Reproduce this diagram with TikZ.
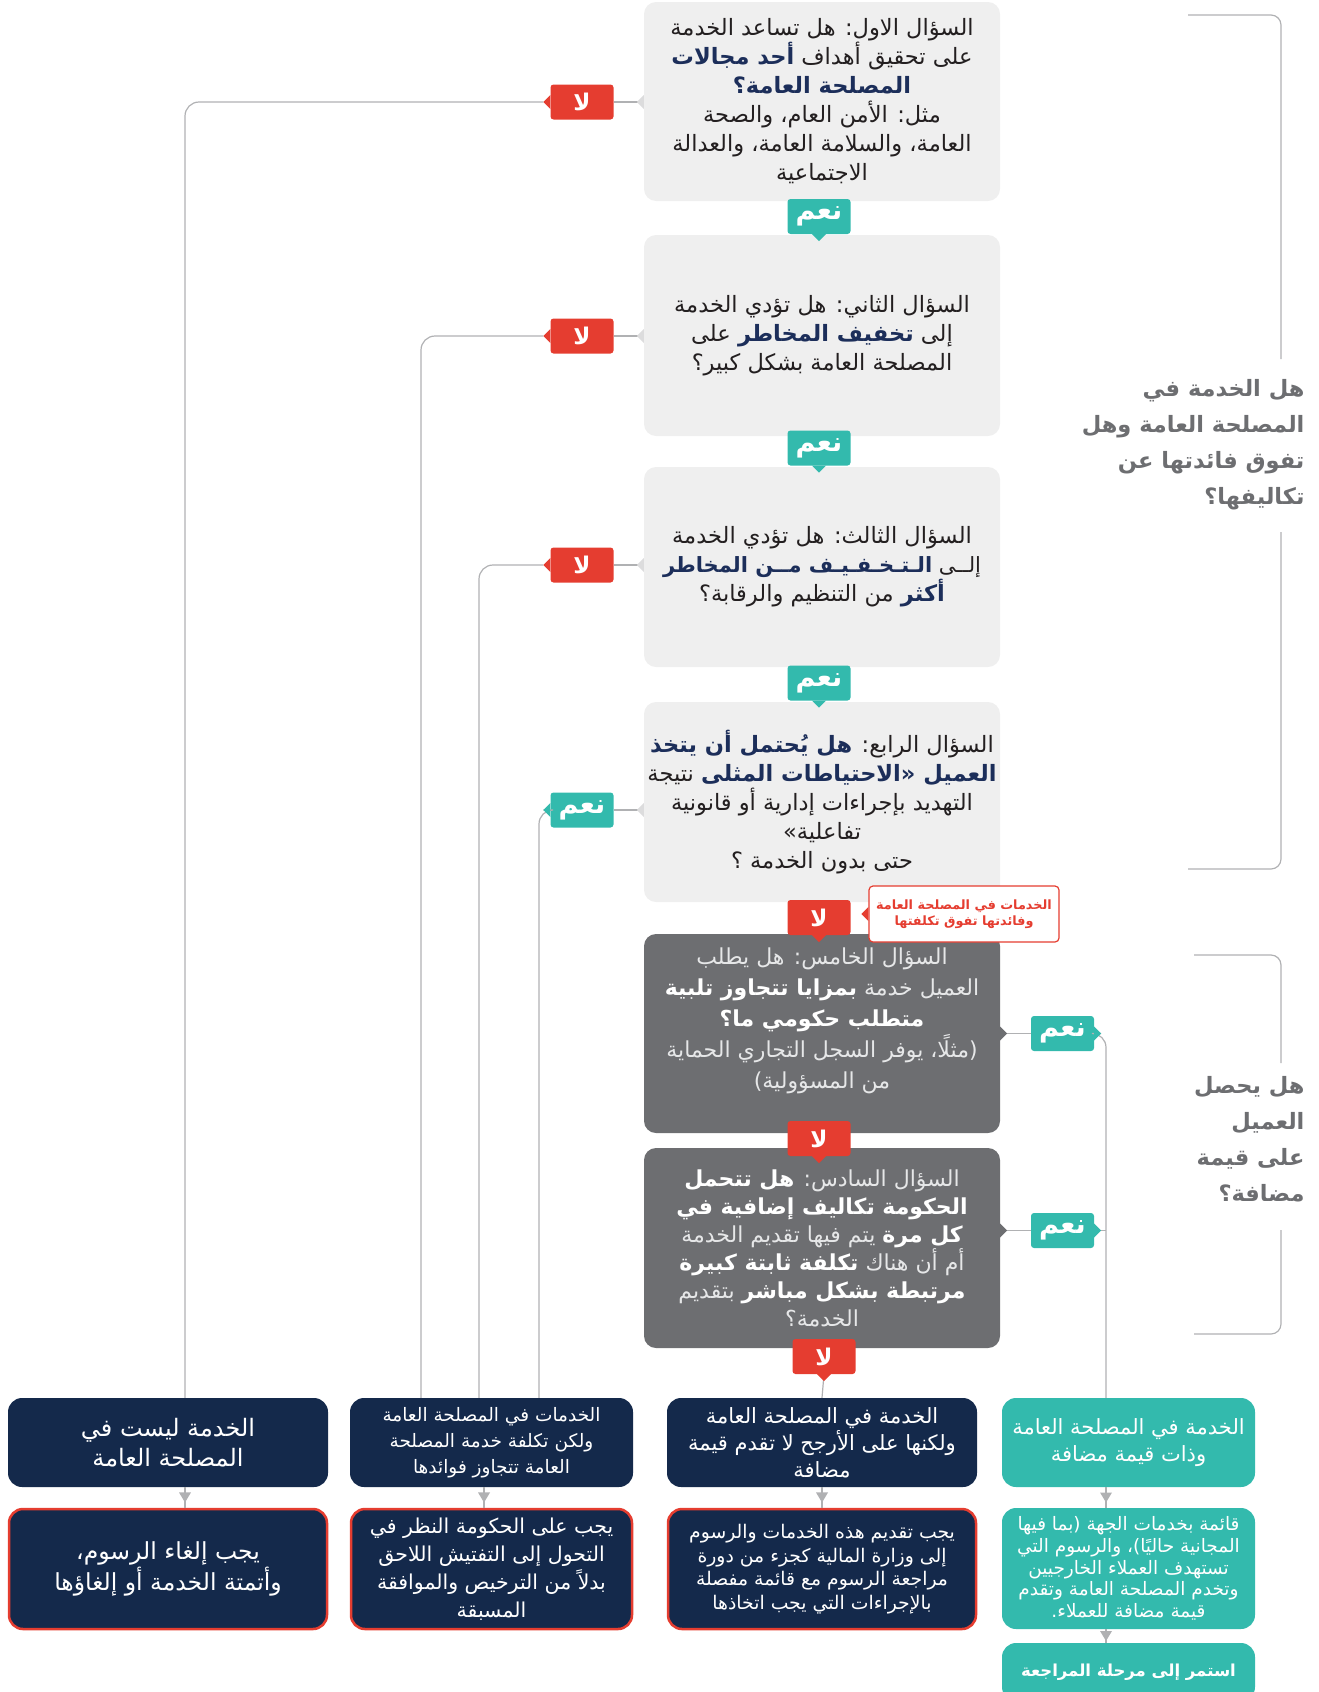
\documentclass[tikz,border=0pt]{standalone}
\usepackage{fontspec}
\newfontfamily\arfont[Script=Arabic]{DejaVu Sans}
\TeXXeTstate=1
\usetikzlibrary{calc}

\definecolor{qfill}{HTML}{EFEFEF}
\definecolor{qptr}{HTML}{DCDCDD}
\definecolor{dgray}{HTML}{6D6E71}
\definecolor{navy}{HTML}{14294B}
\definecolor{hlnavy}{HTML}{1C2E5A}
\definecolor{ared}{HTML}{E53D30}
\definecolor{ateal}{HTML}{33BAAD}
\definecolor{lineg}{HTML}{B0B1B3}
\definecolor{txt}{HTML}{231F20}
\definecolor{ltxt}{HTML}{E6E7E8}

% one right-to-left line of Arabic text
\newcommand{\ar}[1]{\beginR#1\endR}
% Emphasis inside a right-to-left line. The whole segment, colour specials
% included, is reversed at shipout, so the pop is written first and the push
% last: they come out as push ... pop around the emphasised words.
\newcommand{\hl}[1]{{\special{color pop}\bfseries#1\special{color push rgb 0.110 0.180 0.353}}}
\newcommand{\bw}[1]{{\special{color pop}\bfseries#1\special{color push rgb 1 1 1}}}
% small pointer triangles on the tags
\newcommand{\ptrS}[2]{\fill[#2] ([xshift=-7pt]#1.south) -- ([xshift=7pt]#1.south) -- ([yshift=-7pt]#1.south) -- cycle;}
\newcommand{\ptrW}[2]{\fill[#2] ([yshift=7pt]#1.west) -- ([yshift=-7pt]#1.west) -- ([xshift=-7pt]#1.west) -- cycle;}
\newcommand{\ptrE}[2]{\fill[#2] ([yshift=7pt]#1.east) -- ([yshift=-7pt]#1.east) -- ([xshift=7pt]#1.east) -- cycle;}
% down arrow head in the middle of a short vertical link
\newcommand{\dnhead}[1]{\fill[lineg] ([xshift=-6pt,yshift=5pt]#1) -- ([xshift=6pt,yshift=5pt]#1) -- ([yshift=-5pt]#1) -- cycle;}

\begin{document}
\begin{tikzpicture}[x=1pt,y=-1pt,
  qbox/.style={fill=qfill, rounded corners=12pt, minimum width=356pt, inner sep=0pt,
    text=txt, align=center, font=\arfont\fontsize{22.5}{29}\selectfont},
  dbox/.style={qbox, fill=dgray, text=ltxt, font=\arfont\fontsize{22}{29}\selectfont},
  dtext/.style={inner sep=0pt, align=center, text=ltxt, font=\arfont\fontsize{22}{31}\selectfont},
  yestag/.style={minimum width=63pt, minimum height=35pt, rounded corners=3pt, inner sep=0pt,
    text=white, fill=ateal, font=\arfont\bfseries\fontsize{27}{27}\selectfont},
  notag/.style={yestag, fill=ared, font=\arfont\bfseries\fontsize{23}{23}\selectfont},
  conn/.style={draw=lineg, line width=1.2pt, rounded corners=14pt},
  outbox/.style={fill=navy, rounded corners=14pt, inner sep=0pt, align=center, text=white},
  actbox/.style={outbox, draw=ared, line width=2.5pt},
  okbox/.style={fill=ateal, rounded corners=14pt, inner sep=0pt, align=center, text=white},
  sidetext/.style={align=right, anchor=east, text=dgray, font=\arfont\bfseries\fontsize{22.5}{36}\selectfont},
]
\useasboundingbox (0,0) rectangle (1319,1692);

% ---------- question boxes ----------
\node[qbox, minimum height=199pt] (Q1) at (822,101.5)
  {\ar{السؤال الاول: هل تساعد الخدمة}\\
   \ar{على تحقيق أهداف \hl{أحد مجالات}}\\
   \ar{\hl{المصلحة العامة؟}}\\
   \ar{مثل:  الأمن العام، والصحة}\\
   \ar{العامة، والسلامة العامة، والعدالة}\\
   \ar{الاجتماعية}};
\node[qbox, minimum height=201pt] (Q2) at (822,335.5)
  {\ar{السؤال الثاني: هل تؤدي الخدمة}\\
   \ar{إلى \hl{تخفيف المخاطر} على}\\
   \ar{المصلحة العامة بشكل كبير؟}};
\node[qbox, minimum height=200pt] (Q3) at (822,567)
  {\ar{السؤال الثالث: هل تؤدي الخدمة}\\
   \ar{\fontsize{21}{29}\selectfont إلــى \hl{الـتـخـفـيـف مــن المخاطر}}\\
   \ar{\hl{أكثر} من التنظيم والرقابة؟}};
\node[qbox, minimum height=200pt] (Q4) at (822,802)
  {\ar{السؤال الرابع: \hl{هل يُحتمل أن يتخذ}}\\
   \ar{\hl{العميل «الاحتياطات المثلى} نتيجة}\\
   \ar{التهديد بإجراءات إدارية أو قانونية}\\
   \ar{تفاعلية»}\\
   \ar{حتى بدون الخدمة ؟}};
\node[dbox, minimum height=199pt] (Q5) at (822,1033.5) {};
\node[dtext] (Q5t) at (822,1021)
  {\ar{السؤال الخامس: هل يطلب}\\
   \ar{العميل خدمة \bw{بمزايا تتجاوز تلبية}}\\
   \ar{\bw{متطلب حكومي ما؟}}\\
   \ar{(مثلًا، يوفر السجل التجاري الحماية}\\
   \ar{من المسؤولية)}};
\node[dbox, minimum height=200pt, font=\arfont\fontsize{22}{28}\selectfont] (Q6) at (822,1248)
  {\ar{السؤال السادس: \bw{هل تتحمل}}\\
   \ar{\bw{الحكومة تكاليف إضافية في}}\\
   \ar{\bw{كل مرة} يتم فيها تقديم الخدمة}\\
   \ar{أم أن هناك \bw{تكلفة ثابتة كبيرة}}\\
   \ar{\bw{مرتبطة بشكل مباشر} بتقديم}\\
   \ar{الخدمة؟}};

% ---------- outcome boxes ----------
\node[outbox, minimum width=320pt, minimum height=89pt, font=\arfont\fontsize{24}{30}\selectfont] (A) at (168,1442.5)
  {\ar{الخدمة ليست في}\\ \ar{المصلحة العامة}};
\node[outbox, minimum width=283pt, minimum height=89pt, font=\arfont\fontsize{18.5}{26}\selectfont] (B) at (491.5,1442.5)
  {\ar{الخدمات في المصلحة العامة}\\ \ar{ولكن تكلفة خدمة المصلحة}\\ \ar{العامة تتجاوز فوائدها}};
\node[outbox, minimum width=310pt, minimum height=89pt, font=\arfont\fontsize{21}{27}\selectfont] (C) at (822,1442.5)
  {\ar{الخدمة في المصلحة العامة}\\ \ar{ولكنها على الأرجح لا تقدم قيمة}\\ \ar{مضافة}};
\node[okbox, minimum width=253pt, minimum height=89pt, font=\arfont\fontsize{21}{27}\selectfont] (D) at (1128.5,1442.5)
  {\ar{الخدمة في المصلحة العامة}\\ \ar{وذات قيمة مضافة}};

\node[actbox, minimum width=318pt, minimum height=120pt, font=\arfont\fontsize{23.5}{29}\selectfont] (A2) at (168,1569)
  {\ar{يجب إلغاء الرسوم،}\\ \ar{وأتمتة الخدمة أو إلغاؤها}};
\node[actbox, minimum width=281pt, minimum height=120pt, font=\arfont\fontsize{20.5}{28}\selectfont] (B2) at (491.5,1569)
  {\ar{يجب على الحكومة النظر في}\\ \ar{التحول إلى التفتيش اللاحق}\\ \ar{بدلاً من الترخيص والموافقة}\\ \ar{المسبقة}};
\node[actbox, minimum width=308pt, minimum height=120pt, font=\arfont\fontsize{18.8}{23.5}\selectfont] (C2) at (822,1569)
  {\ar{يجب تقديم هذه الخدمات والرسوم}\\ \ar{إلى وزارة المالية كجزء من دورة}\\ \ar{مراجعة الرسوم مع قائمة مفصلة}\\ \ar{بالإجراءات التي يجب اتخاذها}};
\node[okbox, minimum width=253pt, minimum height=121pt, font=\arfont\fontsize{18.5}{21.6}\selectfont] (D2) at (1128.5,1568.5)
  {\ar{قائمة بخدمات الجهة (بما فيها}\\ \ar{المجانية حاليًا)، والرسوم التي}\\ \ar{تستهدف العملاء الخارجيين}\\ \ar{وتخدم المصلحة العامة وتقدم}\\ \ar{قيمة مضافة للعملاء.}};
\node[okbox, minimum width=253pt, minimum height=58pt, font=\arfont\bfseries\fontsize{16.5}{20}\selectfont] (F) at (1128.5,1672)
  {\ar{استمر إلى مرحلة المراجعة}};

% ---------- tags ----------
\node[yestag] (y1) at (819,216.5) {\ar{نعم}};
\node[yestag] (y2) at (819,448) {\ar{نعم}};
\node[yestag] (y3) at (819,683) {\ar{نعم}};
\node[notag] (n4) at (819,917.5) {\ar{لا}};
\node[notag] (n5) at (819,1138.5) {\ar{لا}};
\node[notag] (n6) at (824,1356.5) {\ar{لا}};

\node[notag] (n1) at (582,102) {\ar{لا}};
\node[notag] (n2) at (582,336) {\ar{لا}};
\node[notag] (n3) at (582,565) {\ar{لا}};
\node[yestag] (y4) at (582,810) {\ar{نعم}};

\node[yestag] (y5) at (1062.5,1033.5) {\ar{نعم}};
\node[yestag] (y6) at (1062.5,1230.5) {\ar{نعم}};

% callout beside the fourth "no"
\node[fill=white, draw=ared, line width=1.2pt, rounded corners=4pt, minimum width=190pt, minimum height=56pt,
  inner sep=0pt, align=center, text=ared, font=\arfont\bfseries\fontsize{12.8}{15.5}\selectfont] (note) at (964,914)
  {\ar{الخدمات في المصلحة العامة}\\ \ar{وفائدتها تفوق تكلفتها}};
\fill[ared] ([yshift=7pt]note.west) -- ([yshift=-7pt]note.west) -- ([xshift=-7pt]note.west) -- cycle;

% ---------- connector columns ----------
\coordinate (cA) at (185,0);
\coordinate (cB1) at (421,0);
\coordinate (cB2) at (479,0);
\coordinate (cB3) at (539,0);
\coordinate (cBm) at (484,0);
\coordinate (cC) at (822,0);
\coordinate (cD) at (1106,0);

% question box -> side tag
\foreach \q/\t in {Q1/n1, Q2/n2, Q3/n3, Q4/y4}{
  \draw[conn] (\q.west |- \t) -- (\t.east);
  \fill[qptr] ([yshift=7pt]\q.west |- \t) -- ([yshift=-7pt]\q.west |- \t) -- ([xshift=-7pt]\q.west |- \t) -- cycle;
}
\foreach \q/\t in {Q5/y5, Q6/y6}{
  \draw[conn] (\q.east |- \t) -- (\t.west);
  \fill[dgray] ([yshift=7pt]\q.east |- \t) -- ([yshift=-7pt]\q.east |- \t) -- ([xshift=7pt]\q.east |- \t) -- cycle;
}

% side tags -> outcome boxes
\draw[conn] ([xshift=-7pt]n1.west) -| (A.north -| cA);
\draw[conn] ([xshift=-7pt]n2.west) -| (B.north -| cB1);
\draw[conn] ([xshift=-7pt]n3.west) -| (B.north -| cB2);
\draw[conn] ([xshift=-7pt]y4.west) -| (B.north -| cB3);
\draw[conn] (n6.south) -- (C.north -| cC);
\draw[conn] ([xshift=7pt]y5.east) -| (D.north -| cD);
\draw[conn] ([xshift=7pt]y6.east) -- (cD |- y6);

% outcome -> action links
\foreach \a/\b/\c in {A/A2/cA, B/B2/cBm, C/C2/cC, D/D2/cD, D2/F/cD}{
  \draw[conn] (\a.south -| \c) -- (\b.north -| \c);
  \dnhead{$(\a.south -| \c)!0.5!(\b.north -| \c)$}
}

% tag pointers
\ptrS{y1}{ateal} \ptrS{y2}{ateal} \ptrS{y3}{ateal}
\ptrS{n4}{ared} \ptrS{n5}{ared} \ptrS{n6}{ared}
\ptrW{n1}{ared} \ptrW{n2}{ared} \ptrW{n3}{ared} \ptrW{y4}{ateal}
\ptrE{y5}{ateal} \ptrE{y6}{ateal}

% ---------- side brackets ----------
\draw[conn, rounded corners=10pt] (1188,15) -| (1281,359);
\draw[conn, rounded corners=10pt] (1281,532) |- (1188,869);
\node[sidetext] (s1) at (1308,445)
  {\ar{هل الخدمة في}\\ \ar{المصلحة العامة وهل}\\ \ar{تفوق فائدتها عن}\\ \ar{تكاليفها؟}};

\draw[conn, rounded corners=10pt] (1194,955) -| (1281,1063);
\draw[conn, rounded corners=10pt] (1281,1230) |- (1194,1334);
\node[sidetext] (s2) at (1308,1139)
  {\ar{هل يحصل}\\ \ar{العميل}\\ \ar{على قيمة}\\ \ar{مضافة؟}};
\end{tikzpicture}
\end{document}
